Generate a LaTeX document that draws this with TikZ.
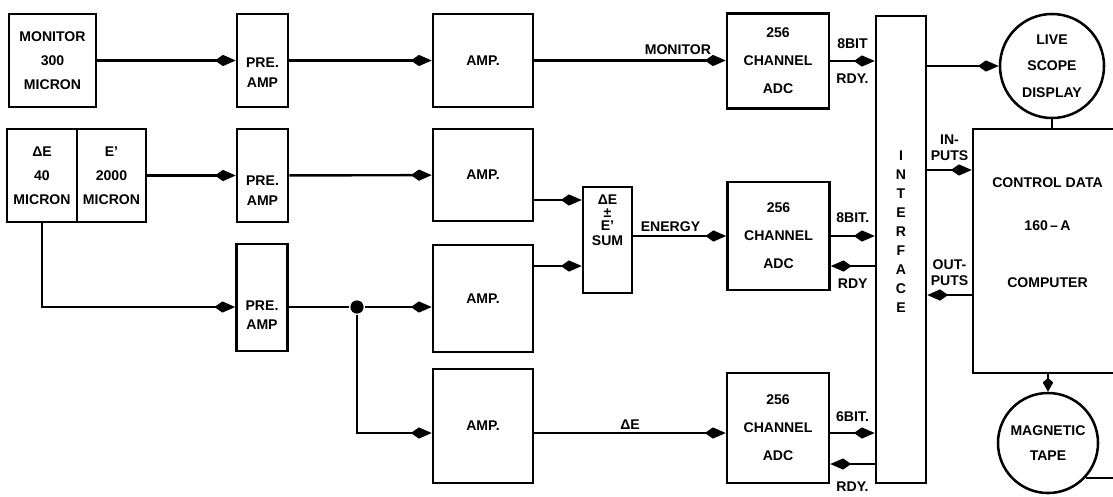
\documentclass[tikz,border=0pt]{standalone}
\usepackage{fontspec}
\setmainfont{Liberation Sans}
\usetikzlibrary{arrows.meta}

\begin{document}
\begin{tikzpicture}[x=0.025cm,y=-0.025cm,line width=1.7pt,
 font=\bfseries\fontsize{10}{17}\selectfont,
 box/.style={draw,line width=1.8pt,align=center,inner sep=1pt,minimum width=25mm,minimum height=23.25mm},
 pre/.style={box,minimum width=12.75mm,text height=37.7pt,text depth=0pt,font=\bfseries\fontsize{10}{14}\selectfont},
 adc/.style={box,minimum width=25.5mm,font=\bfseries\fontsize{10}{20}\selectfont},
 disc/.style={draw,line width=1.8pt,circle,align=center,inner sep=0pt},
 dot/.style={circle,fill,inner sep=0pt,minimum size=3.3mm},
 lab/.style={align=center,inner sep=2pt,font=\bfseries\fontsize{10}{11}\selectfont},
 arr/.style={-{Kite[length=5.2mm,width=2.8mm,inset=2mm]}}]
\useasboundingbox (0,0) rectangle (1113,496);
\clip (0,0) rectangle (1113,496);
% detectors
\node[box,minimum width=21.75mm] (mon) at (52.5,60.5) {MONITOR\\300\\MICRON};
\node[box,minimum width=17.5mm] (de) at (42,175.5) {ΔE\\40\\MICRON};
\node[box,minimum width=17.25mm] (ep) at (111.5,175.5) {E'\\2000\\MICRON};
% pre-amps and amps
\node[pre] (pre1) at (262.5,60.5) {PRE.\\AMP};
\node[pre,text height=42pt] (pre2) at (262.5,175.5) {PRE.\\AMP};
\node[pre,minimum height=26.75mm,text height=46.2pt] (pre3) at (262,297.5) {PRE.\\AMP};
\node[box] (amp1) at (483,60.5) {AMP.};
\node[box,minimum height=23mm] (amp2) at (483,175) {AMP.};
\node[box,minimum height=26.75mm] (amp3) at (483,298.5) {AMP.};
\node[box,minimum height=28.5mm] (amp4) at (483,426) {AMP.};
\node[box,minimum width=12.25mm,minimum height=26.5mm,text height=8.5pt,text depth=0pt,
 font=\bfseries\fontsize{10}{8}\selectfont] (sum) at (607.5,240) {ΔE\\[1pt]±\\[1.5pt]E'\\[3pt]SUM};
% converters
\node[adc,minimum height=23.75mm] (adc1) at (778,61) {256\\CHANNEL\\ADC};
\node[adc,minimum height=27mm] (adc2) at (778.5,236) {256\\CHANNEL\\ADC};
\node[adc,minimum height=27.5mm] (adc3) at (778,428) {256\\CHANNEL\\ADC};
\node[box,minimum width=12.5mm,minimum height=116.75mm,text height=90.3pt,text depth=0pt,
 font=\bfseries\fontsize{10}{13.6}\selectfont] (iface) at (901,249.5) {I\\N\\T\\E\\R\\F\\A\\C\\E};
% computer side
\node[disc,minimum size=26mm,font=\bfseries\fontsize{10}{18.8}\selectfont] (live) at (1052,66) {LIVE\\SCOPE\\DISPLAY};
\node[box,minimum width=37.25mm,minimum height=61mm,text height=51.2pt,text depth=0pt,
 font=\bfseries\fontsize{10}{12}\selectfont] (comp) at (1047.5,251) {CONTROL DATA\\[18.6pt]160\,--\,A\\[28.5pt]COMPUTER};
\node[disc,minimum size=25mm,font=\bfseries\fontsize{10}{17.8}\selectfont] (tape) at (1048,443) {MAGNETIC\\TAPE};
\node[dot] (j) at (357,307) {};
\coordinate (s1) at ([yshift=1cm]sum.west);
\coordinate (s2) at ([yshift=-.65cm]sum.west);
\coordinate (dl) at ([yshift=-.175cm]amp4.west);
\coordinate (r2) at ([yshift=-.75cm]adc2.east);
\coordinate (r3) at ([yshift=-.9cm]adc3.east);
\coordinate (cin) at ([yshift=2.025cm]comp.west);
\coordinate (cout) at ([yshift=-1.1cm]comp.west);
% signal lines
\draw[arr] (mon) -- (pre1);
\draw[arr] (pre1) -- (amp1);
\draw[arr] (amp1.east) -- node[lab,above=1pt,pos=.75]{MONITOR} (amp1.east -| adc1.west);
\draw[arr] (ep) -- (pre2);
\draw[arr] (pre2) -- (amp2);
\draw[arr] (s1 -| amp2.east) -- (s1);
\draw[arr] (s2 -| amp3.east) -- (s2);
\draw[arr] (adc2.west -| sum.east) -- node[lab,above,pos=.4]{ENERGY} (adc2.west);
\draw[arr] (de.south) |- (pre3.west |- j);
\draw (pre3.east |- j) -- (j);
\draw[arr] (j) -- (amp3.west |- j);
\draw[arr] (j) |- (dl);
\draw[arr] (dl -| amp4.east) -- node[lab,above]{ΔE} (dl -| adc3.west);
% to and from the interface
\draw[arr] (adc1.east) -- node[lab,above=6pt]{8BIT} node[lab,below=6pt]{RDY.} (adc1.east -| iface.west);
\draw[arr] (adc2.east) -- node[lab,above=7pt]{8BIT.} (adc2.east -| iface.west);
\draw[arr] (r2 -| iface.west) -- node[lab,below=6pt]{RDY} (r2);
\draw[arr] (dl -| adc3.east) -- node[lab,above=5pt]{6BIT.} (dl -| iface.west);
\draw[arr] (r3 -| iface.west) -- node[lab,below=10pt]{RDY.} (r3);
\draw[arr] (iface.east |- live.west) -- (live.west);
\draw[arr] (cin -| iface.east) -- node[lab,above=4pt]{IN-\\PUTS} (cin);
\draw[arr] (cout) -- node[lab,above=4pt]{OUT-\\PUTS} (cout -| iface.east);
\draw (live.south) -- (live.south |- comp.north);
\draw[-{Kite[length=3.5mm,width=2.6mm,inset=1.2mm]}] (tape.north |- comp.south) -- (tape.north);
\draw[line width=1.8pt] (tape.-43) -- ++(40,0);
\end{tikzpicture}
\end{document}
